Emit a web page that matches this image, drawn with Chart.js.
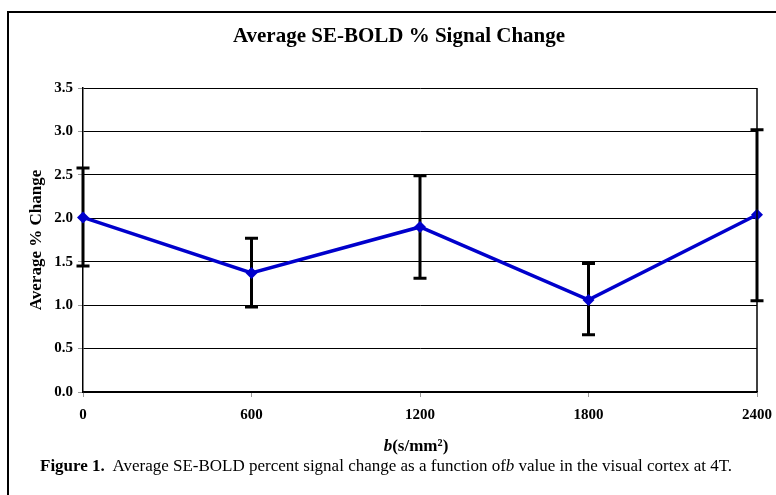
<!DOCTYPE html>
<html>
<head>
<meta charset="utf-8">
<script src="https://cdn.jsdelivr.net/npm/chart.js@4.4.1/dist/chart.umd.min.js"></script>
<style>
    html, body { margin: 0; padding: 0; background: #fff; }
    #wrap { position: relative; width: 776px; height: 495px; overflow: hidden; }
    #frame { position: absolute; left: 7px; top: 11px; width: 820px; height: 600px; border: 2px solid #000; }
    #chart { position: absolute; left: 0; top: 0; }
    #caption {
        position: absolute; left: 40px; top: 456px; margin: 0; white-space: nowrap;
        font-family: 'Liberation Serif', 'Times New Roman', serif; font-size: 17px; color: #000;
    }
</style>
</head>
<body>
<div id="wrap">
    <div id="frame"></div>
    <canvas id="chart" width="776" height="495"></canvas>
    <p id="caption"><b>Figure 1.</b>&nbsp; Average SE-BOLD percent signal change as a function of<i>b</i> value in the visual cortex at 4T.</p>
</div>
<script>
// b values (s/mm²) and the mean % change with the error bar ends
const bValues = [0, 600, 1200, 1800, 2400];
const meanChange = [2.01, 1.37, 1.90, 1.06, 2.04];
const errHigh = [2.58, 1.77, 2.49, 1.48, 3.02];
const errLow = [1.45, 0.98, 1.31, 0.66, 1.05];

const chartTitle = 'Average SE-BOLD % Signal Change';
const serif = "'Liberation Serif', 'Times New Roman', serif";

// error bars, drawn under the line
const errorBars = {
    id: 'errorBars',
    beforeDatasetsDraw(chart) {
        const ctx = chart.ctx;
        const xs = chart.scales.x, ys = chart.scales.y;
        ctx.save();
        ctx.strokeStyle = '#000';
        ctx.lineWidth = 3;
        bValues.forEach((b, i) => {
            const x = xs.getPixelForValue(b);
            const top = ys.getPixelForValue(errHigh[i]);
            const bot = ys.getPixelForValue(errLow[i]);
            ctx.beginPath();
            ctx.moveTo(x, top); ctx.lineTo(x, bot);
            ctx.moveTo(x - 6.5, top); ctx.lineTo(x + 6.5, top);
            ctx.moveTo(x - 6.5, bot); ctx.lineTo(x + 6.5, bot);
            ctx.stroke();
        });
        ctx.restore();
    }
};

// title, plot box right edge and the x axis title with italic b
const extras = {
    id: 'extras',
    afterDraw(chart) {
        const ctx = chart.ctx;
        const a = chart.chartArea;
        ctx.save();
        ctx.strokeStyle = '#000';
        ctx.lineWidth = 1.5;
        ctx.beginPath();
        ctx.moveTo(a.right, a.top); ctx.lineTo(a.right, a.bottom);
        ctx.stroke();

        ctx.fillStyle = '#000';
        ctx.textBaseline = 'middle';
        ctx.textAlign = 'center';
        ctx.font = 'bold 21px ' + serif;
        ctx.fillText(chartTitle, 399, 37);

        const partB = 'b', partRest = '(s/mm²)';
        ctx.font = 'italic bold 17px ' + serif;
        const wB = ctx.measureText(partB).width;
        ctx.font = 'bold 17px ' + serif;
        const wR = ctx.measureText(partRest).width;
        const x = (a.left + a.right) / 2 - (wB + wR) / 2 - 4;
        const y = 447;
        ctx.textAlign = 'left';
        ctx.font = 'italic bold 17px ' + serif;
        ctx.fillText(partB, x, y);
        ctx.font = 'bold 17px ' + serif;
        ctx.fillText(partRest, x + wB, y);
        ctx.restore();
    }
};

new Chart(document.getElementById('chart'), {
    type: 'line',
    data: {
        datasets: [{
            data: bValues.map((b, i) => ({ x: b, y: meanChange[i] })),
            borderColor: '#0000cc',
            backgroundColor: '#0000cc',
            borderWidth: 3.5,
            pointStyle: 'rectRot',
            pointRadius: 6,
            pointBorderWidth: 0,
            tension: 0,
            clip: false
        }]
    },
    options: {
        responsive: false,
        animation: false,
        layout: { padding: { left: 0, right: 19, top: 88, bottom: 0 } },
        plugins: {
            legend: { display: false },
            tooltip: { enabled: false },
            title: { display: false }
        },
        scales: {
            x: {
                type: 'linear',
                min: 0,
                max: 2400,
                afterFit(scale) {
                    scale.height = 103;
                    scale.paddingLeft = 0;
                    scale.paddingRight = 0;
                },
                ticks: {
                    stepSize: 600,
                    color: '#000',
                    padding: 9,
                    font: { family: serif, size: 15, weight: 'bold' },
                    callback: v => String(v)
                },
                grid: { drawOnChartArea: false, tickLength: 5, tickColor: '#999' },
                border: { color: '#000', width: 1.5 }
            },
            y: {
                min: 0,
                max: 3.5,
                afterFit(scale) { scale.width = 83; },
                ticks: {
                    stepSize: 0.5,
                    color: '#000',
                    padding: 5,
                    font: { family: serif, size: 15, weight: 'bold' },
                    callback: v => v.toFixed(1)
                },
                grid: { color: '#000', lineWidth: 1, tickLength: 5, tickColor: '#999' },
                border: { color: '#000', width: 1.5 },
                title: {
                    display: true,
                    text: 'Average % Change',
                    color: '#000',
                    font: { family: serif, size: 17, weight: 'bold' },
                    padding: { top: 26, bottom: 0 }
                }
            }
        }
    },
    plugins: [errorBars, extras]
});
</script>
</body>
</html>
